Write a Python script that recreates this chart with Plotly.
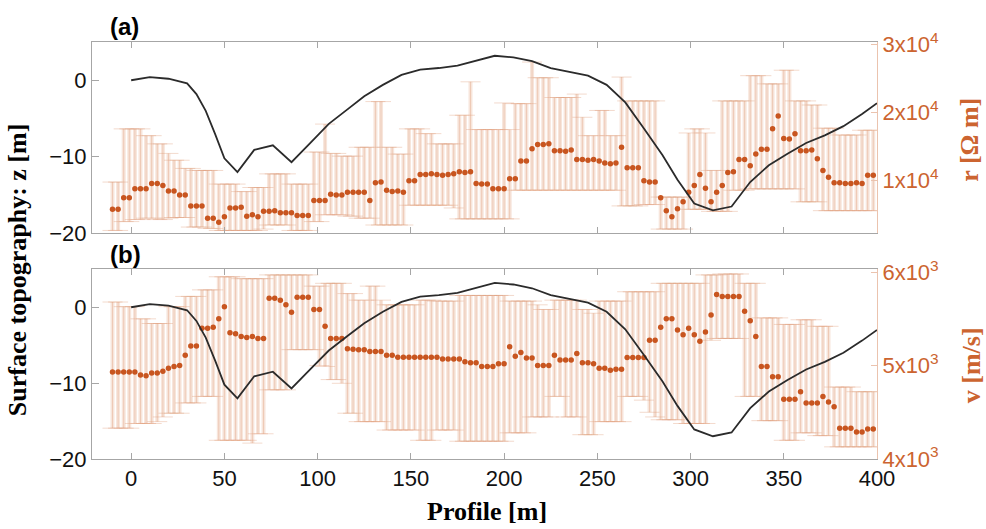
import plotly.graph_objects as go

# ---------------- data ----------------
# topography profile (same in both panels)
topo_x = [0, 10, 20, 30, 35, 40, 45, 50, 57, 66, 76, 86, 96, 106, 116, 125, 135, 145, 155, 165,
          175, 185, 195, 205, 215, 225, 235, 245, 255, 265, 275, 285, 293, 302, 312, 322, 332,
          342, 352, 362, 372, 382, 392, 400]
topo_z = [0.0, 0.4, 0.2, -0.4, -1.8, -4.0, -7.0, -10.2, -12.0, -9.1, -8.5, -10.7, -8.2, -5.7,
          -3.8, -2.1, -0.6, 0.7, 1.4, 1.6, 1.9, 2.5, 3.2, 3.0, 2.5, 1.6, 1.1, 0.6, -0.6, -2.9,
          -6.3, -9.8, -13.0, -16.1, -17.0, -16.5, -13.3, -11.1, -9.6, -8.2, -7.2, -6.0, -4.4, -3.0]

# profile positions of the estimates
pos = list(range(-10, 399, 3))

# (a) resistivity [Ohm m]
r_val = [5800, 5800, 7500, 7500, 8800, 8800, 8800, 9600, 9600, 9300,
         8500, 8500, 7900, 7900, 6300, 6300, 6300, 4500, 4500, 3900,
         4700, 6000, 6000, 6100, 4800, 5000, 4700, 5500, 5500, 5600,
         5300, 5300, 5300, 4900, 4900, 4900, 7100, 7100, 7100, 8000,
         7900, 7900, 8300, 8300, 8300, 8300, 7100, 9700, 9800, 8600,
         8400, 8500, 8300, 10000, 10000, 10900, 10900, 11000, 10900, 10800,
         10900, 11000, 11300, 11200, 11300, 9600, 9500, 9500, 8800, 8800,
         8800, 10300, 10300, 12900, 12900, 14700, 15300, 15300, 15400, 14400,
         14400, 14300, 14500, 13100, 13100, 13000, 13100, 12900, 12600, 12500,
         12600, 14900, 11900, 11900, 11900, 10000, 9800, 9800, 7500, 5600,
         4700, 5900, 6900, 8300, 9300, 10900, 8900, 6900, 8300, 9300,
         11200, 11300, 13100, 13100, 12200, 13900, 14600, 14600, 17600, 19500,
         16200, 16100, 16900, 14400, 14400, 14500, 13200, 11500, 10500, 9700,
         9700, 9600, 9600, 9700, 9600, 10800, 10800]
r_hi = [9800, 9800, 17600, 17600, 17600, 17600, 16600, 16600, 15400, 15400,
        14000, 13000, 13000, 11800, 11800, 11500, 11500, 11500, 11500, 9500,
        9500, 9500, 9500, 8400, 8400, 9000, 9000, 9000, 11000, 11000,
        11000, 11000, 9500, 9500, 9500, 9500, 14200, 14200, 18300, 14000,
        14000, 13600, 13600, 13600, 14900, 14900, 14900, 21600, 21600, 14900,
        14900, 13900, 13900, 17600, 17600, 17600, 16900, 16900, 15400, 15400,
        15400, 15400, 19600, 19600, 24500, 17500, 17500, 17500, 17500, 17500,
        21400, 17500, 21300, 21300, 21300, 27400, 25100, 25100, 25100, 22200,
        22200, 22200, 22200, 22700, 19300, 16600, 16600, 20300, 20300, 16600,
        16600, 25200, 21700, 21700, 21700, 21700, 21700, 21700, 7600, 7600,
        7600, 7600, 7600, 17000, 17600, 17600, 17000, 11500, 11500, 21700,
        21700, 21700, 21700, 21700, 25400, 25400, 25400, 24200, 24200, 24200,
        26200, 26200, 21700, 21700, 21700, 21100, 21100, 17700, 17700, 17700,
        16700, 16700, 16700, 16700, 17400, 17400, 17400]
r_lo = [2700, 2700, 4000, 4000, 4300, 4300, 4500, 4500, 4300, 4300,
        4500, 4600, 4600, 4600, 3200, 3200, 3200, 3000, 3000, 2700,
        2700, 2700, 2700, 2700, 2700, 2700, 2700, 2900, 3500, 3500,
        3500, 3500, 2700, 2700, 2700, 2700, 4000, 4000, 5000, 5000,
        5000, 5000, 4800, 4800, 4500, 4500, 4500, 3500, 3500, 3500,
        3500, 3500, 3500, 6400, 6400, 6400, 6400, 6400, 6400, 6400,
        6400, 6000, 4400, 4400, 4400, 4400, 4400, 4400, 4400, 4400,
        4400, 4400, 8600, 8600, 8600, 8600, 8600, 8600, 8600, 8600,
        8600, 8600, 8600, 8600, 8600, 8600, 8600, 8600, 8600, 8600,
        8600, 6300, 6300, 6300, 6300, 6500, 6500, 6500, 2900, 2900,
        2900, 2900, 2900, 5800, 5800, 5800, 5800, 5500, 5500, 5500,
        5500, 8600, 8600, 8600, 8800, 8800, 8800, 8800, 8800, 8800,
        8800, 8800, 8800, 6900, 6900, 6900, 6900, 5600, 5600, 5600,
        5600, 5600, 5600, 5600, 5600, 5600, 5600]

# (b) velocity [m/s]
v_val = [4930, 4930, 4930, 4930, 4930, 4900, 4890, 4920, 4920, 4940,
         4970, 4990, 5000, 5110, 5210, 5210, 5400, 5400, 5410, 5500,
         5630, 5350, 5340, 5310, 5300, 5310, 5290, 5290, 5720, 5720,
         5700, 5650, 5570, 5730, 5730, 5730, 5600, 5600, 5420, 5290,
         5290, 5290, 5180, 5175, 5170, 5170, 5150, 5150, 5150, 5110,
         5110, 5090, 5090, 5090, 5090, 5090, 5090, 5090, 5090, 5070,
         5070, 5070, 5070, 5040, 5030, 5030, 4990, 4990, 4990, 5020,
         5020, 5200, 5100, 5140, 5080, 5080, 5000, 5000, 5000, 5110,
         5060, 5060, 5060, 5130, 5030, 5030, 5020, 4970, 4970, 4950,
         4960, 4960, 5085, 5085, 5085, 5085, 5270, 5270, 5410, 5500,
         5500, 5380, 5330, 5400, 5330, 5260, 5360, 5540, 5760, 5740,
         5740, 5740, 5740, 5580, 5480, 5310, 4990, 4990, 4880, 4880,
         4640, 4640, 4640, 4720, 4600, 4600, 4600, 4670, 4610, 4560,
         4330, 4330, 4330, 4290, 4290, 4320, 4320]
v_hi = [5680, 5680, 5630, 5630, 5630, 5500, 5500, 5450, 5450, 5450,
        5630, 5630, 5630, 5740, 5740, 5740, 5810, 5810, 5810, 5950,
        5950, 5950, 5950, 5930, 5930, 5930, 5930, 5930, 5970, 5970,
        5970, 5970, 5970, 5970, 5970, 5970, 5850, 5850, 5880, 5880,
        5880, 5880, 5770, 5770, 5700, 5700, 5850, 5850, 5700, 5650,
        5650, 5650, 5650, 5650, 5650, 5700, 5700, 5700, 5690, 5690,
        5690, 5690, 5750, 5750, 5750, 5750, 5750, 5750, 5750, 5750,
        5750, 5690, 5690, 5690, 5690, 5690, 5650, 5600, 5600, 5700,
        5700, 5700, 5700, 5700, 5600, 5600, 5560, 5690, 5690, 5690,
        5690, 5690, 5790, 5790, 5790, 5790, 5790, 5790, 5880, 5880,
        5880, 5880, 5880, 5880, 5880, 5880, 5970, 5970, 5970, 5980,
        5980, 5980, 5980, 5880, 5880, 5880, 5510, 5510, 5510, 5510,
        5440, 5440, 5440, 5490, 5490, 5490, 5420, 5420, 5420, 4770,
        4770, 4770, 4770, 4720, 4720, 4720, 4720]
v_lo = [4330, 4330, 4330, 4330, 4380, 4380, 4380, 4380, 4400, 4450,
        4490, 4490, 4490, 4600, 4600, 4600, 4670, 4670, 4670, 4200,
        4200, 4200, 4200, 4200, 4200, 4170, 4270, 4270, 4740, 4740,
        4740, 4740, 5170, 5170, 5170, 5170, 5170, 5000, 4990, 4850,
        4850, 4810, 4490, 4490, 4400, 4400, 4400, 4400, 4400, 4310,
        4310, 4310, 4310, 4310, 4310, 4200, 4200, 4200, 4310, 4310,
        4310, 4310, 4190, 4190, 4190, 4190, 4190, 4190, 4190, 4190,
        4190, 4280, 4280, 4280, 4280, 4450, 4450, 4450, 4450, 4670,
        4670, 4450, 4450, 4450, 4260, 4260, 4260, 4400, 4400, 4400,
        4400, 4400, 4670, 4670, 4670, 4630, 4500, 4450, 4420, 4420,
        4420, 4420, 4380, 4380, 4380, 4380, 4380, 5270, 5290, 5290,
        5290, 5290, 5290, 4670, 4670, 4670, 4410, 4410, 4410, 4410,
        4200, 4200, 4200, 4280, 4280, 4280, 4250, 4250, 4250, 4130,
        4130, 4130, 4130, 4130, 4130, 4130, 4130]

x_ticks = [0, 50, 100, 150, 200, 250, 300, 350, 400]
z_ticks = [-20, -10, 0]
r_ticks = [10000, 20000, 30000]
r_ticktext = ["1x10<sup>4</sup>", "2x10<sup>4</sup>", "3x10<sup>4</sup>"]
v_ticks = [4000, 5000, 6000]
v_ticktext = ["4x10<sup>3</sup>", "5x10<sup>3</sup>", "6x10<sup>3</sup>"]

# ---------------- style ----------------
ORANGE = "#C8551F"
ORANGE_TXT = "#CC6430"
FILL = "rgba(236,190,165,0.40)"
CAP = "rgba(220,150,115,0.45)"
GRAY = "#a6a6a6"
SANS = "Liberation Sans"
SERIF = "Liberation Serif"

fig = go.Figure()


def add_panel(xa, ya, yz, vals, hi, lo):
    plus = [h - v for h, v in zip(hi, vals)]
    minus = [v - l for v, l in zip(vals, lo)]
    # broad light stems (shaded look)
    fig.add_trace(go.Scatter(
        x=pos, y=vals, xaxis=xa, yaxis=ya, mode="markers",
        marker=dict(color="rgba(0,0,0,0)", size=1),
        error_y=dict(type="data", symmetric=False, array=plus, arrayminus=minus,
                     color=FILL, thickness=4, width=0),
        showlegend=False, hoverinfo="skip"))
    # thin stems with caps + estimates
    fig.add_trace(go.Scatter(
        x=pos, y=vals, xaxis=xa, yaxis=ya, mode="markers",
        marker=dict(color=ORANGE, size=5.5),
        error_y=dict(type="data", symmetric=False, array=plus, arrayminus=minus,
                     color=CAP, thickness=0.8, width=10),
        showlegend=False))
    fig.add_trace(go.Scatter(
        x=topo_x, y=topo_z, xaxis=xa, yaxis=yz, mode="lines",
        line=dict(color="#2b2b2b", width=1.8), showlegend=False))


add_panel("x", "y", "y3", r_val, r_hi, r_lo)
add_panel("x2", "y2", "y4", v_val, v_hi, v_lo)

tickfont = dict(family=SANS, size=22, color="#111111")
xcommon = dict(range=[-21, 400], tickvals=x_ticks, ticks="inside", ticklen=6,
               tickcolor=GRAY, showline=True, linecolor=GRAY, linewidth=1,
               mirror="ticks", showgrid=False, zeroline=False, tickfont=tickfont)
zcommon = dict(range=[-20, 5], tickvals=z_ticks, ticks="inside", ticklen=7,
               tickcolor=GRAY, showline=True, linecolor=GRAY, linewidth=1,
               showgrid=False, zeroline=False, tickfont=tickfont, side="left")
rcommon = dict(side="right", ticks="inside", ticklen=6, tickcolor="#EBC3AE",
               showline=True, linecolor="#EBC3AE", linewidth=1, showgrid=False,
               zeroline=False, tickfont=dict(family=SANS, size=22, color=ORANGE_TXT))

fig.update_layout(
    width=986, height=529, autosize=False,
    margin=dict(l=92, r=109, t=42, b=70, pad=0),
    paper_bgcolor="white", plot_bgcolor="white",
    xaxis=dict(domain=[0, 1], anchor="y", showticklabels=False, **xcommon),
    xaxis2=dict(domain=[0, 1], anchor="y2", matches="x", showticklabels=True, **xcommon),
    yaxis=dict(domain=[0.5412, 1], anchor="x", range=[2280, 30340],
               tickvals=r_ticks, ticktext=r_ticktext, **rcommon),
    yaxis2=dict(domain=[0, 0.4549], anchor="x2", range=[4000, 6030],
                tickvals=v_ticks, ticktext=v_ticktext, **rcommon),
    yaxis3=dict(overlaying="y", anchor="x", **zcommon),
    yaxis4=dict(overlaying="y2", anchor="x2", **zcommon),
)

annots = [
    dict(text="<b>(a)</b>", x=0.0408, y=1.038, font=dict(family=SANS, size=24, color="black")),
    dict(text="<b>(b)</b>", x=0.0430, y=0.4916, font=dict(family=SANS, size=24, color="black")),
    dict(text="<b>Surface topography: z [m]</b>", x=-0.0955, y=0.453, textangle=-90,
         font=dict(family=SERIF, size=26, color="black")),
    dict(text="<b>Profile [m]</b>", x=0.503, y=-0.127,
         font=dict(family=SERIF, size=26, color="black")),
    dict(text="<b>r [Ω m]</b>", x=1.118, y=0.765, textangle=-90,
         font=dict(family=SERIF, size=26, color=ORANGE_TXT)),
    dict(text="<b>v [m/s]</b>", x=1.120, y=0.2254, textangle=-90,
         font=dict(family=SERIF, size=26, color=ORANGE_TXT)),
]
for a in annots:
    fig.add_annotation(xref="paper", yref="paper", showarrow=False,
                       xanchor="center", yanchor="middle", **a)

fig.write_html("out.html")
